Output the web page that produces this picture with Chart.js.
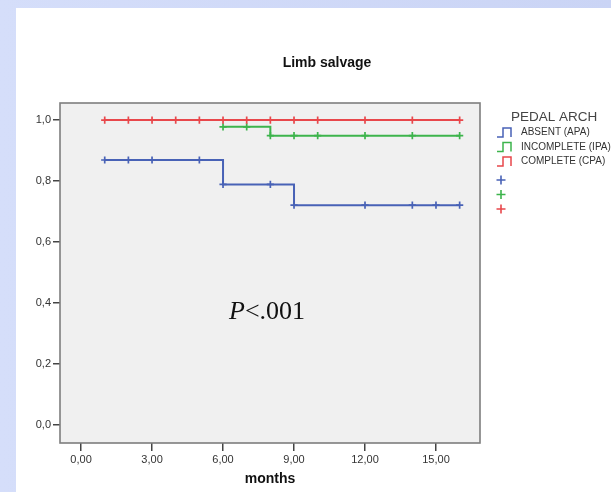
<!DOCTYPE html>
<html>
<head>
<meta charset="utf-8">
<script src="https://cdn.jsdelivr.net/npm/chart.js@4"></script>
<style>
  html, body { margin: 0; padding: 0; }
  body {
    width: 611px; height: 492px; overflow: hidden;
    background: linear-gradient(90deg, #d5defa, #cad4f5);
  }
  #panel {
    position: absolute; left: 16px; top: 8px;
    width: 595px; height: 484px; background: #fff;
  }
</style>
</head>
<body>
<div id="panel"><canvas id="kmChart" width="595" height="484"></canvas></div>
<script>
// Kaplan-Meier data (months, cumulative survival)
const xTicks = [0, 3, 6, 9, 12, 15];
const yTicks = [0, 0.2, 0.4, 0.6, 0.8, 1.0];

const groupNames = ['ABSENT (APA)', 'INCOMPLETE (IPA)', 'COMPLETE (CPA)'];
const groupColors = ['#4862b6', '#3db44c', '#e8474b'];

const apaTimes = [1, 6, 9, 16];
const apaSurv = [0.869, 0.789, 0.721, 0.721];
const apaCensored = [1, 2, 3, 5, 6, 8, 9, 12, 14, 15, 16];

const ipaTimes = [6, 8, 16];
const ipaSurv = [0.978, 0.949, 0.949];
const ipaCensored = [6, 7, 8, 9, 10, 12, 14, 16];

const cpaTimes = [1, 16];
const cpaSurv = [1.0, 1.0];
const cpaCensored = [1, 2, 3, 4, 5, 6, 7, 8, 9, 10, 12, 14, 16];

// survival level of a step curve at time t
function levelAt(times, surv, t) {
    let s = surv[0];
    for (let i = 0; i < times.length; i++) {
        if (times[i] <= t) s = surv[i];
    }
    return s;
}

function stepLine(times, surv, color) {
    return {
        data: times.map((t, i) => ({ x: t, y: surv[i] })),
        showLine: true,
        stepped: true,
        borderColor: color,
        borderWidth: 2,
        pointRadius: 0,
        fill: false
    };
}

function censorMarks(times, stepTimes, surv, color) {
    return {
        data: times.map(t => ({ x: t, y: levelAt(stepTimes, surv, t) })),
        showLine: false,
        pointStyle: 'cross',
        pointRadius: 3.6,
        pointBorderWidth: 1.7,
        pointBorderColor: color,
        pointBackgroundColor: color
    };
}

const fmt = (v, d) => v.toFixed(d).replace('.', ',');

// plot frame, title, legend and p-value
const kmDecor = {
    id: 'kmDecor',
    beforeDatasetsDraw(chart) {
        const { ctx, chartArea: a } = chart;
        ctx.save();
        ctx.fillStyle = '#f0f0f0';
        ctx.fillRect(a.left, a.top, a.right - a.left, a.bottom - a.top);
        ctx.restore();
    },
    afterDraw(chart) {
        const { ctx, chartArea: a } = chart;
        ctx.save();
        ctx.strokeStyle = '#7e7e7e';
        ctx.lineWidth = 1.6;
        ctx.strokeRect(a.left, a.top, a.right - a.left, a.bottom - a.top);

        ctx.fillStyle = '#111';
        ctx.textAlign = 'center';
        ctx.textBaseline = 'middle';
        ctx.font = 'bold 14px "Liberation Sans", Arial, sans-serif';
        ctx.fillText('Limb salvage', 311, 55);

        // p-value
        ctx.textAlign = 'left';
        ctx.textBaseline = 'alphabetic';
        ctx.font = 'italic 26px "Liberation Serif", serif';
        ctx.fillText('P', 213, 311);
        const pw = ctx.measureText('P').width;
        ctx.font = '26px "Liberation Serif", serif';
        ctx.fillText('<.001', 213 + pw, 311);

        // legend
        const lx = 481;
        ctx.fillStyle = '#444';
        ctx.font = '13.5px "Liberation Sans", Arial, sans-serif';
        ctx.textBaseline = 'middle';
        ctx.fillText('PEDAL ARCH', 495, 109);
        ctx.font = '10px "Liberation Sans", Arial, sans-serif';
        groupNames.forEach((name, i) => {
            const y = 124.5 + i * 14.5;
            ctx.strokeStyle = groupColors[i];
            ctx.lineWidth = 1.5;
            ctx.beginPath();
            ctx.moveTo(lx, y + 4.5);
            ctx.lineTo(lx + 6, y + 4.5);
            ctx.lineTo(lx + 6, y - 4.5);
            ctx.lineTo(lx + 14, y - 4.5);
            ctx.lineTo(lx + 14, y + 4.5);
            ctx.stroke();
            ctx.fillStyle = '#333';
            ctx.fillText(name, lx + 24, y);
        });
        groupColors.forEach((c, i) => {
            const y = 172 + i * 14.5;
            ctx.strokeStyle = c;
            ctx.lineWidth = 1.6;
            ctx.beginPath();
            ctx.moveTo(lx + 4, y - 4.5);
            ctx.lineTo(lx + 4, y + 4.5);
            ctx.moveTo(lx - 0.5, y);
            ctx.lineTo(lx + 8.5, y);
            ctx.stroke();
        });
        ctx.restore();
    }
};

const ctx = document.getElementById('kmChart').getContext('2d');
const kmChart = new Chart(ctx, {
    type: 'scatter',
    data: {
        datasets: [
            censorMarks(cpaCensored, cpaTimes, cpaSurv, groupColors[2]),
            stepLine(cpaTimes, cpaSurv, groupColors[2]),
            censorMarks(ipaCensored, ipaTimes, ipaSurv, groupColors[1]),
            stepLine(ipaTimes, ipaSurv, groupColors[1]),
            censorMarks(apaCensored, apaTimes, apaSurv, groupColors[0]),
            stepLine(apaTimes, apaSurv, groupColors[0])
        ]
    },
    options: {
        responsive: false,
        animation: false,
        layout: { padding: { top: 95, right: 131, bottom: 0, left: 0 } },
        plugins: {
            legend: { display: false },
            tooltip: { enabled: false }
        },
        scales: {
            x: {
                type: 'linear',
                min: -0.89,
                max: 16.86,
                afterBuildTicks: s => { s.ticks = xTicks.map(v => ({ value: v })); },
                afterFit: s => { s.height = 49; },
                border: { display: false },
                grid: { drawOnChartArea: false, drawTicks: true, tickLength: 8, color: '#444', lineWidth: 1.5 },
                ticks: {
                    padding: 2,
                    color: '#333',
                    font: { size: 11, family: '"Liberation Sans", Arial, sans-serif' },
                    callback: v => fmt(v, 2)
                },
                title: {
                    display: true,
                    text: 'months',
                    color: '#111',
                    font: { size: 14, weight: 'bold', family: '"Liberation Sans", Arial, sans-serif' },
                    padding: { top: 0, bottom: 4 }
                }
            },
            y: {
                min: -0.059,
                max: 1.056,
                afterBuildTicks: s => { s.ticks = yTicks.map(v => ({ value: v })); },
                afterFit: s => { s.width = 44; },
                border: { display: false },
                grid: { drawOnChartArea: false, drawTicks: true, tickLength: 7, color: '#444', lineWidth: 1.5 },
                ticks: {
                    padding: 2,
                    color: '#333',
                    font: { size: 11, family: '"Liberation Sans", Arial, sans-serif' },
                    callback: v => fmt(v, 1)
                }
            }
        }
    },
    plugins: [kmDecor]
});
</script>
</body>
</html>
